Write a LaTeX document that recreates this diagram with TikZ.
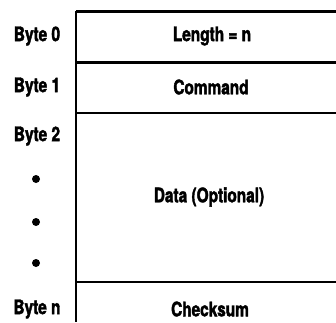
\documentclass[tikz,border=0pt]{standalone}
\usepackage{fontspec}
\setmainfont{TeX Gyre Heros}[FakeStretch=0.77,BoldFeatures={FakeBold=2}]
\begin{document}
\begin{tikzpicture}[x=1pt,y=-1pt,
  bytelabel/.style={font=\bfseries\fontsize{20}{20}\selectfont, inner sep=0pt},
  fieldtext/.style={font=\bfseries\fontsize{20}{20}\selectfont, inner sep=0pt},
  thickrule/.style={line width=3pt},
  thinrule/.style={line width=2.2pt},
  dotmark/.style={circle, fill=black, inner sep=0pt, minimum size=8pt}]
\useasboundingbox (0,0) rectangle (336,322);
\clip (0,0) rectangle (336,322);
% frame of the packet
\coordinate (tl) at (76,11);
\coordinate (bl) at (76,322);
\draw[thickrule] (tl) -- (350,11);
\draw[thinrule] (tl) -- (bl);
\draw[thickrule] (76,62) -- (350,62);
\draw[thinrule] (76,113) -- (350,113);
\draw[thinrule] (76,282) -- (350,282);
% byte labels
\node[bytelabel] (b0) at (37,36) {Byte 0};
\node[bytelabel] (b1) at (37,87) {Byte 1};
\node[bytelabel] (b2) at (37,136) {Byte 2};
\node[dotmark] (d1) at (36,179) {};
\node[dotmark] (d2) at (36,222) {};
\node[dotmark] (d3) at (36,263) {};
\node[bytelabel] (bn) at (37,309) {Byte n};
% field contents
\node[fieldtext] (len) at (212,36) {Length = n};
\node[fieldtext] (cmd) at (211,87) {Command};
\node[fieldtext] (data) at (209,197) {Data (Optional)};
\node[fieldtext] (chk) at (210,309) {Checksum};
\end{tikzpicture}
\end{document}
